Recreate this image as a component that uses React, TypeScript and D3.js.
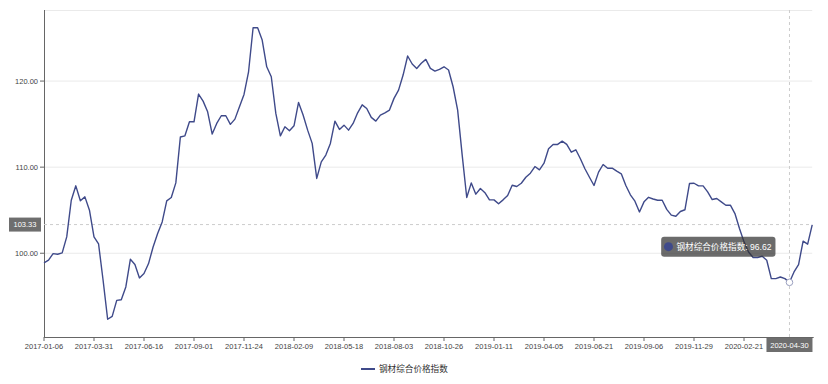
import React from "react";
import * as d3 from "d3";

const seriesName = "钢材综合价格指数";
const values: number[] = [
  98.87, 99.19, 99.96, 99.88, 100.04, 101.9, 106.16, 107.83, 106.1, 106.55,
  105.0, 101.9, 101.1, 96.86, 92.33, 92.67, 94.53, 94.6, 96.08, 99.3,
  98.7, 97.13, 97.64, 98.8, 100.73, 102.29, 103.64, 106.08, 106.47, 108.17,
  113.5, 113.64, 115.27, 115.27, 118.49, 117.67, 116.43, 113.84, 115.08, 115.97,
  115.97, 114.97, 115.58, 117.01, 118.45, 121.08, 126.2, 126.2, 124.77, 121.66,
  120.5, 116.24, 113.64, 114.69, 114.22, 114.8, 117.52, 116.05, 114.3, 112.76,
  108.69, 110.62, 111.4, 112.76, 115.35, 114.38, 114.88, 114.3, 115.08, 116.31,
  117.24, 116.82, 115.78, 115.35, 116.05, 116.31, 116.63, 117.99, 118.95, 120.7,
  122.91, 121.98, 121.47, 122.06, 122.52, 121.47, 121.16, 121.36, 121.66, 121.28,
  119.34, 116.63, 111.4, 106.47, 108.17, 106.86, 107.52, 107.03, 106.2, 106.2,
  105.74, 106.2, 106.71, 107.9, 107.75, 108.13, 108.83, 109.3, 110.07, 109.69,
  110.46, 112.14, 112.64, 112.64, 113.02, 112.64, 111.74, 112.02, 110.97, 109.81,
  108.83, 107.87, 109.42, 110.31, 109.88, 109.88, 109.53, 109.23, 107.87, 106.79,
  106.05, 104.8, 105.97, 106.5, 106.3, 106.15, 106.15, 105.1, 104.42, 104.3,
  104.85, 105.05, 108.1, 108.13, 107.82, 107.83, 107.13, 106.24, 106.36, 105.97,
  105.58, 105.58, 104.61, 102.87, 101.32, 100.15, 99.5, 99.5, 99.65, 99.19,
  97.05, 97.05, 97.24, 97.05, 96.62, 97.83, 98.69, 101.4, 101.05, 103.3,
];
const xTickLabels: string[] = [
  "2017-01-06", "2017-03-31", "2017-06-16", "2017-09-01", "2017-11-24",
  "2018-02-09", "2018-05-18", "2018-08-03", "2018-10-26", "2019-01-11",
  "2019-04-05", "2019-06-21", "2019-09-06", "2019-11-29", "2020-02-21",
];
const labelInterval = 11;
const yTicks: number[] = [100, 110, 120];
const hoverIndex = 164;
const hoverDate = "2020-04-30";
const pointerValue = 103.33;

const W = 828, H = 384;
const left = 44, right = 812.2, top = 10, bottom = 337;
const color = "#3f4a8a";
const font = "'Liberation Sans', Arial, 'Noto Sans CJK SC', sans-serif";

export default function App() {
  const x = d3.scaleLinear().domain([0, values.length - 1]).range([left, right]);
  const y = d3.scaleLinear().domain([90.27, 128.256]).range([bottom, top]);
  const line = d3.line<number>().x((_, i) => x(i)).y((d) => y(d));
  const tickIdx = d3.range(0, values.length, labelInterval);
  const hx = x(hoverIndex), hy = y(values[hoverIndex]);
  const py = y(pointerValue);
  const tipText = `${seriesName}: ${values[hoverIndex].toFixed(2)}`;
  return (
    <svg width={W} height={H} style={{ position: "absolute", left: 0, top: 0, fontFamily: font }}>
      <rect width={W} height={H} fill="#fff" />
      {/* grid */}
      <line x1={left} x2={right} y1={top + 0.5} y2={top + 0.5} stroke="#eaeaea" />
      {yTicks.map((t) => (
        <g key={t}>
          <line x1={left} x2={right} y1={y(t)} y2={y(t)} stroke="#eaeaea" />
          <line x1={left - 4} x2={left} y1={y(t)} y2={y(t)} stroke="#666" />
          <text x={left - 6} y={y(t)} dy="0.35em" textAnchor="end" fontSize={7.5} fill="#444">
            {t.toFixed(2)}
          </text>
        </g>
      ))}
      {/* axes */}
      <line x1={left + 0.5} x2={left + 0.5} y1={top} y2={bottom} stroke="#666" />
      <line x1={left} x2={right + 1.5} y1={bottom + 0.5} y2={bottom + 0.5} stroke="#666" />
      {tickIdx.map((i) => (
        <g key={i}>
          <line x1={x(i)} x2={x(i)} y1={bottom} y2={bottom + 4} stroke="#666" />
          {xTickLabels[i / labelInterval] && (
            <text x={x(i)} y={bottom + 11.5} textAnchor="middle" fontSize={7.5} fill="#444">
              {xTickLabels[i / labelInterval]}
            </text>
          )}
        </g>
      ))}
      {/* axis pointers */}
      <line x1={left} x2={right} y1={py} y2={py} stroke="#ccc" strokeDasharray="3,3" />
      <line x1={hx} x2={hx} y1={top} y2={bottom} stroke="#ccc" strokeDasharray="3,3" />
      {/* series */}
      <path d={line(values) || ""} fill="none" stroke={color} strokeWidth={1.4} strokeLinejoin="round" />
      <circle cx={hx} cy={hy} r={3.3} fill="#fff" stroke="#9a9fbf" strokeWidth={1} />
      {/* pointer labels */}
      <rect x={9} y={py - 7} width={32} height={14} fill="#6e6e6e" />
      <text x={25} y={py} dy="0.35em" textAnchor="middle" fontSize={7.5} fill="#fff">
        {pointerValue.toFixed(2)}
      </text>
      <rect x={hx - 23} y={bottom + 1} width={46} height={14} fill="#6e6e6e" />
      <text x={hx} y={bottom + 8} dy="0.35em" textAnchor="middle" fontSize={7.5} fill="#fff">
        {hoverDate}
      </text>
      {/* tooltip */}
      <rect x={hx - 128.3} y={hy - 45.7} width={114.3} height={20} rx={3} fill="rgba(50,50,50,0.72)" />
      <circle cx={hx - 121} cy={hy - 35.7} r={4.5} fill={color} />
      <text x={hx - 113} y={hy - 35.7} dy="0.35em" fontSize={8.6} fill="#fff">
        {tipText}
      </text>
      {/* legend */}
      <line x1={361} x2={375} y1={369} y2={369} stroke={color} strokeWidth={2} />
      <text x={379} y={369} dy="0.35em" fontSize={8.6} fill="#333">
        {seriesName}
      </text>
    </svg>
  );
}
